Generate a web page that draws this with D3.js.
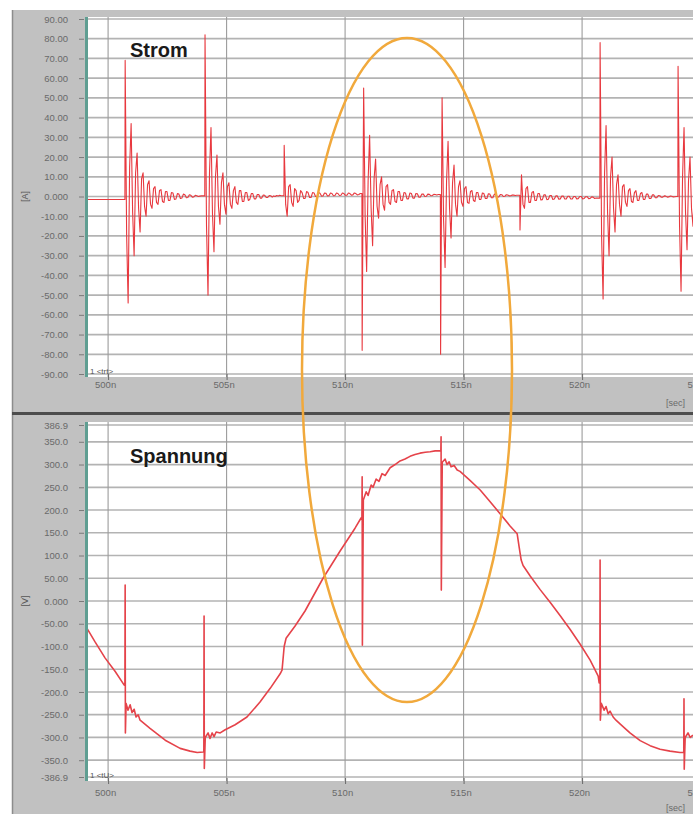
<!DOCTYPE html>
<html><head><meta charset="utf-8">
<script src="https://cdn.jsdelivr.net/npm/d3@7"></script>
<style>body{margin:0;background:#fff}svg{display:block}</style>
</head><body>
<svg id="c" width="699" height="814"></svg>
<script>
// ---------- DATA ----------
const xTickVals = [500, 505, 510, 515, 520, 525];
const xTickLabels = ["500n", "505n", "510n", "515n", "520n", "525n"];
const topTickVals = [90, 80, 70, 60, 50, 40, 30, 20, 10, 0, -10, -20, -30, -40, -50, -60, -70, -80, -90];
const topTickLabels = ["90.00","80.00","70.00","60.00","50.00","40.00","30.00","20.00","10.00","0.000",
  "-10.00","-20.00","-30.00","-40.00","-50.00","-60.00","-70.00","-80.00","-90.00"];
const botTickVals = [386.9, 350, 300, 250, 200, 150, 100, 50, 0, -50, -100, -150, -200, -250, -300, -350, -386.9];
const botTickLabels = ["386.9","350.0","300.0","250.0","200.0","150.0","100.0","50.00","0.000",
  "-50.00","-100.0","-150.0","-200.0","-250.0","-300.0","-350.0","-386.9"];

// current (Strom) [A]: lead-in baseline, then sampled bursts
const currentLeadT = [499.11, 500.70];
const currentLeadV = [-1.5, -1.5];
const burstStarts = [500.72, 504.09, 507.43, 510.72, 514.03, 517.38, 520.76, 524.05];
const burstStep = 0.063;
const burst1 = [69,-20,-54,15,37,-8,-30,12,22,-6,-18,9,12,-5,-10,6,8,-4,-6,4,5,-3,-4,3,3.5,-2.5,-3,2.5,2.5,-2,-2,2,1.8,-1.5,-1.3,1.5,1.2,-1,-0.8,1.2,0.9,-0.6,-0.5,0.9,0.6,-0.3,-0.2,0.6,0.4,0,0.2,0.3];
const burst2 = [82,-15,-50,12,35,-9,-28,10,21,-5,-14,7,12,-4,-9,5,7,-4,-6,3,5,-3,-4,3,3,-2.5,-2.5,2,2,-2,-1.5,1.5,1.5,-1.2,-1.2,1,1,-0.8,-0.8,0.7,0.6,-0.5,-0.5,0.5,0.4,-0.3,0.3,0,0.5,0.3,0.6,0.4];
const burst3 = [26,-4,-10,5,6,-3,-5,4,3,-3,-2,3,2,-1,-1,2.5,2,-0.5,-0.5,2,1.8,0,0,2,1.6,0.2,0.3,1.8,1.6,0.3,0.4,1.8,1.5,0.4,0.5,1.8,1.5,0.5,0.6,1.8,1.5,0.6,0.6,1.8,1.5,0.7,0.8,1.8,1.5,0.8,1,1.5];
const burst4 = [-78,55,-10,-38,8,31,-6,-25,9,19,-5,-11,6,10,-4,-7,5,6,-3,-4,3,3.5,-2.5,-3,2.5,2.5,-2,-2,2,1.8,-1.2,-1.2,1.8,1.5,-0.8,-0.8,1.5,1.4,-0.4,-0.3,1.3,1.2,0,0.1,1.2,1.1,0.4,0.5,1.1,1,0.8,1];
const burst5 = [-80,50,-12,-36,8,28,-6,-21,7,16,-4,-10,5,8,-3,-5,4,5,-3,-3.5,2.5,3,-2,-2.5,2,2,-1.5,-1.5,1.8,1.5,-1,-1,1.4,1.2,-0.6,-0.6,1.2,1,-0.3,-0.2,1,0.9,0,0.1,0.9,0.8,0.3,0.4,0.8,0.7,0.5,0.6];
const burst6 = [-17,11,-4,-6,4,5,-3,-3,2,2.5,-2,-2,1.5,1.5,-1.8,-1.6,0.8,0.8,-1.6,-1.4,0.5,0.5,-1.5,-1.3,0.3,0.3,-1.4,-1.2,0.2,0.2,-1.3,-1.2,0.1,0.1,-1.3,-1.2,0,0,-1.2,-1.1,0,0,-1.2,-1,-0.1,-0.1,-1.1,-1,-0.2,-0.3,-1,-0.8];
const burst7 = [78,-20,-52,12,36,-8,-30,10,20,-6,-18,6,11,-4,-10,5,6,-3,-5,3,4,-2.5,-3,2,3,-2,-2,1.5,2,-1.5,-1.5,1.2,1.2,-1,-1,0.8,0.8,-0.6,-0.6,0.5,0.4,-0.4,-0.3,0.3,0.2,-0.3,-0.2,0.2,0.1,-0.2,-0.1,0];
const burst8 = [66,-15,-48,10,35,-8,-27,8,20,-6,-15,5,12,-4,-10];

// voltage (Spannung) [V]
const voltT = [499.11,499.45,499.87,500.30,500.68,500.71,500.72,500.73,500.76,500.84,500.93,501.01,501.10,501.18,501.27,501.35,501.77,502.41,503.04,503.46,503.76,504.01,
  504.04,504.05,504.06,504.10,504.22,504.30,504.39,504.47,504.56,504.73,504.94,505.36,505.86,506.41,506.84,507.26,507.34,507.43,507.51,507.89,508.31,509.07,509.79,510.42,510.68,
  510.71,510.72,510.73,510.77,510.89,510.97,511.10,511.18,511.31,511.43,511.56,511.69,511.90,512.11,512.32,512.53,512.74,512.95,513.16,513.38,513.59,513.80,514.01,
  514.04,514.05,514.06,514.10,514.22,514.30,514.39,514.47,514.60,514.73,514.85,515.06,515.27,515.70,516.12,516.54,516.96,517.26,517.34,517.43,517.51,517.81,518.23,518.65,519.07,519.49,519.92,520.34,520.68,520.72,
  520.75,520.76,520.77,520.81,520.93,521.01,521.10,521.18,521.31,521.43,521.60,522.02,522.45,522.87,523.29,523.71,524.13,524.26,
  524.29,524.30,524.31,524.35,524.47,524.56,524.68];
const voltV = [-60,-90,-125,-155,-185,-185,35,-290,-225,-240,-228,-245,-238,-255,-250,-262,-280,-306,-324,-330,-333,-332,
  -332,-33,-368,-300,-290,-302,-290,-298,-288,-290,-283,-272,-255,-222,-192,-160,-152,-100,-82,-55,-22,50,110,160,183,
  183,273,-97,222,240,232,255,250,268,263,280,276,293,300,308,312,318,322,325,327,328,330,330,
  330,361,24,305,312,300,306,295,298,288,285,275,265,244,218,192,165,148,120,90,78,55,25,-3,-32,-62,-95,-130,-165,-180,
  -180,90,-262,-225,-240,-232,-248,-242,-255,-262,-270,-290,-307,-318,-326,-330,-333,-333,
  -333,-215,-370,-300,-290,-300,-295];

// ---------- LAYOUT ----------
const svg = d3.select("#c");
const frameL = 12, frameR = 693, plotL = 85, plotR = 693;
const top1 = 17, bot1 = 377, top2 = 422, bot2 = 781;
const gray = "#c1c1c1", txt = "#6a6a6a";
const font = "'Liberation Sans', Arial, sans-serif";

const x = d3.scaleLinear().domain([499.11, 524.68]).range([87, 693]);
const yA = d3.scaleLinear().domain([-90, 90]).range([374, 19]);
const yV = d3.scaleLinear().domain([-386.9, 386.9]).range([777, 425]);

const defs = svg.append("defs");
defs.append("clipPath").attr("id", "clipAll").append("rect").attr("x", 0).attr("y", 0).attr("width", frameR).attr("height", 814);
defs.append("clipPath").attr("id", "clip1").append("rect").attr("x", plotL).attr("y", top1).attr("width", plotR - plotL).attr("height", bot1 - top1);
defs.append("clipPath").attr("id", "clip2").append("rect").attr("x", plotL).attr("y", top2).attr("width", plotR - plotL).attr("height", bot2 - top2);

const root = svg.append("g").attr("clip-path", "url(#clipAll)");
root.append("rect").attr("x", frameL).attr("y", 10).attr("width", frameR - frameL).attr("height", 804).attr("fill", gray);
root.append("line").attr("x1", frameL + 0.5).attr("x2", frameL + 0.5).attr("y1", 10).attr("y2", 814).attr("stroke", "#8c8c8c").attr("stroke-width", 1.5);
root.append("rect").attr("x", frameL).attr("y", 412).attr("width", frameR - frameL).attr("height", 3).attr("fill", "#4d4d4d");

function panel(y, top, bot, tickVals, tickLabels, unit, title, chan, lblY, secY, lblBase) {
  const g = root.append("g");
  g.append("rect").attr("x", plotL).attr("y", top).attr("width", plotR - plotL).attr("height", bot - top).attr("fill", "#fff");
  // horizontal grid
  const gg = g.append("g").attr("clip-path", `url(#${chan})`);
  gg.selectAll("line.h").data(tickVals).join("line")
    .attr("x1", plotL).attr("x2", plotR).attr("y1", d => y(d)).attr("y2", d => y(d))
    .attr("stroke", "#b3b3b3").attr("stroke-width", 1.7);
  gg.selectAll("line.v").data(xTickVals).join("line")
    .attr("x1", d => x(d)).attr("x2", d => x(d)).attr("y1", top).attr("y2", bot)
    .attr("stroke", "#9c9c9c").attr("stroke-width", 1.1);
  // teal left edge
  g.append("rect").attr("x", plotL).attr("y", top).attr("width", 3).attr("height", bot - top).attr("fill", "#5f9e92");
  // y axis
  const ax = d3.axisLeft(y).tickValues(tickVals).tickFormat((d, i) => tickLabels[i]).tickSize(5).tickPadding(11);
  const ag = g.append("g").attr("transform", `translate(${plotL - 1},0)`).call(ax);
  ag.select(".domain").remove();
  ag.selectAll(".tick line").attr("stroke", "#7a7a7a");
  ag.selectAll(".tick text").attr("fill", txt).attr("font-family", font).attr("font-size", 9.5);
  // x axis
  const xa = d3.axisBottom(x).tickValues(xTickVals).tickFormat((d, i) => xTickLabels[i]).tickSize(6).tickPadding(lblBase);
  const xg = g.append("g").attr("transform", `translate(0,${bot - 3})`).call(xa);
  xg.select(".domain").remove();
  xg.selectAll(".tick line").attr("stroke", "#6a6a6a");
  xg.selectAll(".tick text").attr("fill", txt).attr("font-family", font).attr("font-size", 9.5).attr("dx", -3);
  g.append("text").attr("x", 666).attr("y", secY).text("[sec]").attr("fill", txt).attr("font-family", font).attr("font-size", 9);
  // unit label
  g.append("text").attr("transform", `translate(28,${lblY}) rotate(-90)`).attr("text-anchor", "middle")
    .text(unit).attr("fill", "#555").attr("font-family", font).attr("font-size", 9);
  // channel tag
  g.append("text").attr("x", 90).attr("y", bot - 3).text("1  " + (title === "Strom" ? "<trt>" : "<tU>"))
    .attr("fill", "#555").attr("font-family", font).attr("font-size", 8);
  return gg;
}

const g1 = panel(yA, top1, bot1, topTickVals, topTickLabels, "[A]", "Strom", "clip1", yA(0), 406, 1);
const g2 = panel(yV, top2, bot2, botTickVals, botTickLabels, "[V]", "Spannung", "clip2", yV(0), 811, 5);

// current trace
const bursts = [burst1, burst2, burst3, burst4, burst5, burst6, burst7, burst8];
const curPts = currentLeadT.map((t, i) => [t, currentLeadV[i]]);
bursts.forEach((b, k) => {
  const prev = curPts[curPts.length - 1][1];
  curPts.push([burstStarts[k] - 0.01, prev]);
  b.forEach((v, j) => curPts.push([burstStarts[k] + j * burstStep, v]));
});
const line = d3.line().x(d => x(d[0]));
g1.append("path").datum(curPts).attr("fill", "none").attr("stroke", "#e8383e").attr("stroke-width", 1.1)
  .attr("stroke-linejoin", "round").attr("d", line.y(d => yA(d[1])));

const vPts = voltT.map((t, i) => [t, voltV[i]]);
g2.append("path").datum(vPts).attr("fill", "none").attr("stroke", "#e5434a").attr("stroke-width", 1.6)
  .attr("stroke-linejoin", "round").attr("d", d3.line().x(d => x(d[0])).y(d => yV(d[1])));

// titles
g1.append("text").attr("x", 130).attr("y", 57).text("Strom").attr("font-family", font).attr("font-weight", "bold").attr("font-size", 20).attr("fill", "#1a1a1a");
g2.append("text").attr("x", 130).attr("y", 463).text("Spannung").attr("font-family", font).attr("font-weight", "bold").attr("font-size", 20).attr("fill", "#1a1a1a");

// highlight ellipse
root.append("ellipse").attr("cx", 407).attr("cy", 370).attr("rx", 105).attr("ry", 332)
  .attr("fill", "none").attr("stroke", "#f1a93c").attr("stroke-width", 2.5);
</script>
</body></html>
